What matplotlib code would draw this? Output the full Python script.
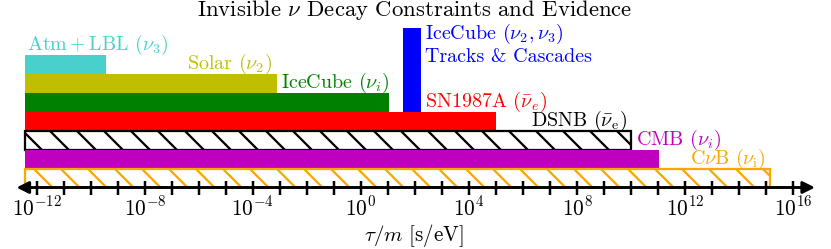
import numpy as np
import matplotlib
matplotlib.use("Agg")
from matplotlib import pyplot as plt
from matplotlib.ticker import NullLocator

plt.rcParams['font.family'] = 'serif'
plt.rcParams['font.serif'] = ['cmr10']
plt.rcParams['mathtext.fontset'] = 'cm'
plt.rcParams['axes.unicode_minus'] = False
plt.rcParams['hatch.linewidth'] = 1.0

# bounds on tau/m [s/eV], top row to bottom row
nombres = [r"$\mathrm{Atm+LBL}$ $(\nu_3)$", r"Solar $(\nu_2)$", r"IceCube $(\nu_i)$",
           r"SN1987A $(\bar{\nu}_e)$", r"DSNB $(\bar{\nu}_\mathrm{e})$",
           r"CMB $(\nu_i)$", r"C$\nu$B $(\nu_\mathrm{i})$"]
limite_inf = 10**-12.42
limite_sup = [3.5e-10, 7.9e-4, 11.2, 1.0e5, 1.0e10, 1.07e11, 1.4e15]
colores = ["mediumturquoise", "y", "g", "r", "k", "m", "orange"]
rayado = [False, False, False, False, True, False, True]

# IceCube tracks & cascades evidence band
evidencia = [35.0, 162.0]

# ticks every decade, labels every 4
exponentes = list(range(-12, 17))
etiquetas = ["$10^{-12}$", "", "", "", "$10^{-8}$", "", "", "", "$10^{-4}$", "", "", "",
             "$10^{0}$", "", "", "", "$10^{4}$", "", "", "", "$10^{8}$", "", "", "",
             "$10^{12}$", "", "", "", "$10^{16}$"]

dpi = 162
fig = plt.figure(figsize=(831 / dpi, 249 / dpi), dpi=dpi)
ax = fig.add_axes([16.5 / 831, 61.5 / 249, (815 - 16.5) / 831, (187.5 - 28) / 249])
ax.set_xscale('log')
ax.set_xlim(10**-12.75, 10**16.8)
ax.set_ylim(0, 8.4)

n = len(nombres)
for i in range(n):
    y = n - 1 - i
    if rayado[i]:
        ax.barh(y, limite_sup[i] - limite_inf, left=limite_inf, height=1, align='edge',
                facecolor='white', edgecolor=colores[i], hatch='\\\\', lw=1.0)
    else:
        ax.barh(y, limite_sup[i] - limite_inf, left=limite_inf, height=1, align='edge',
                color=colores[i], lw=0)

ax.barh(4, evidencia[1] - evidencia[0], left=evidencia[0], height=4.4, align='edge',
        color='b', lw=0)

# labels (x anchor, alignment)
fs = 8.9
pos_x = [limite_inf * 10**0.06, limite_sup[1] * 10**-0.2, limite_sup[2], 10**2.37,
         limite_sup[4] * 10**-0.15, 10**10.18, limite_sup[6] * 10**-0.15]
alin = ['left', 'right', 'right', 'left', 'right', 'left', 'right']
for i in range(n):
    y = n - i + 0.22
    ax.text(pos_x[i], y, nombres[i], color=colores[i], ha=alin[i], va='baseline', fontsize=fs)
ax.text(10**2.37, 6.63, "IceCube $(\\nu_2,\\nu_3)$\nTracks & Cascades", color='b',
        ha='left', va='baseline', fontsize=fs, linespacing=1.1)

for s in ax.spines.values():
    s.set_visible(False)
ax.annotate('', xy=(1, 0), xytext=(0, 0), xycoords='axes fraction', textcoords='axes fraction',
            arrowprops=dict(arrowstyle='<|-|>', color='k', lw=1.3, shrinkA=0, shrinkB=0,
                            mutation_scale=11), zorder=5, annotation_clip=False)

ax.set_xticks([10.0**k for k in exponentes])
ax.set_xticklabels(etiquetas, fontsize=9.5)
ax.xaxis.set_minor_locator(NullLocator())
ax.tick_params(axis='x', direction='inout', length=6.2, width=1.1, pad=0.5)
ax.set_yticks([])
for t in ax.xaxis.get_major_ticks():
    t.tick1line.set_zorder(6)

fig.text(414 / 831, 1 - 241 / 249, r"$\tau/m$ [s/eV]", ha='center', va='baseline', fontsize=9.3)
fig.text(414.5 / 831, 1 - 16.5 / 249, r"Invisible $\nu$ Decay Constraints and Evidence",
         ha='center', va='baseline', fontsize=10.1)

plt.savefig("out.png", dpi=dpi)
plt.close()
